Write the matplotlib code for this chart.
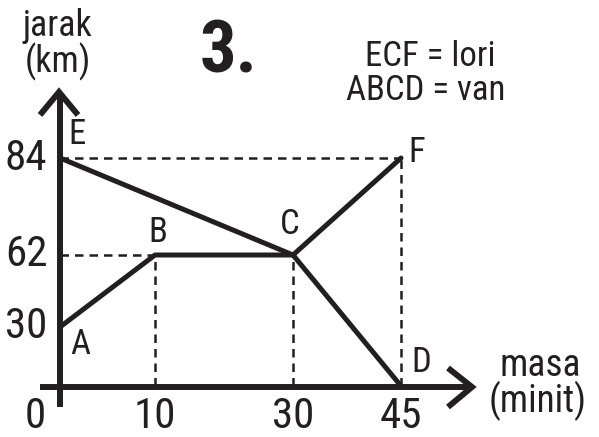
import numpy as np
import matplotlib
matplotlib.use("Agg")
import matplotlib.pyplot as plt
from matplotlib import transforms, font_manager

# ---------------- data ----------------
masa_van = [0, 10, 30, 45]
jarak_van = [30, 62, 62, 0]
label_van = ["A", "B", "C", "D"]

masa_lori = [0, 30, 45]
jarak_lori = [84, 62, 84]
label_lori = ["E", "C", "F"]

x_ticks = [10, 30, 45]
y_ticks = [30, 62, 84]

# ---------------- style ----------------
INK = "#231f20"
W, H = 599, 437
names = {f.name for f in font_manager.fontManager.ttflist}
FONT = ["Roboto Condensed", "DejaVu Sans Condensed", "Roboto", "DejaVu Sans"]
FONT = [f for f in FONT if f in names]
plt.rcParams["font.family"] = FONT

fig = plt.figure(figsize=(W / 100, H / 100), dpi=100)
ax = fig.add_axes([0, 0, 1, 1])
ax.set_axis_off()

# the sketch is not drawn to scale: piecewise-linear scales
def piecewise(xp, fp):
    xp = np.asarray(xp, float); fp = np.asarray(fp, float)
    def f(v):
        v = np.asarray(v, float)
        out = np.interp(v, xp, fp)
        lo_s = (fp[1] - fp[0]) / (xp[1] - xp[0])
        hi_s = (fp[-1] - fp[-2]) / (xp[-1] - xp[-2])
        out = np.where(v < xp[0], fp[0] + (v - xp[0]) * lo_s, out)
        out = np.where(v > xp[-1], fp[-1] + (v - xp[-1]) * hi_s, out)
        return out
    return f

xs_data, xs_pix = [0, 10, 30, 45], [60, 155, 293, 401]
ys_data, ys_pix = [0, 30, 62, 84], [H - 386, H - 327, H - 255, H - 158]
fx, fxi = piecewise(xs_data, xs_pix), piecewise(xs_pix, xs_data)
fy, fyi = piecewise(ys_data, ys_pix), piecewise(ys_pix, ys_data)
ax.set_xscale("function", functions=(fx, fxi))
ax.set_yscale("function", functions=(fy, fyi))
ax.set_xlim(float(fxi(0)), float(fxi(W)))
ax.set_ylim(float(fyi(0)), float(fyi(H)))

# pixel transform (origin top-left) for decorations
P = transforms.Affine2D().scale(1 / W, -1 / H).translate(0, 1) + fig.transFigure

# axes with open arrow heads
axis_kw = dict(color=INK, lw=4.3, solid_capstyle="butt", solid_joinstyle="miter",
               transform=P, clip_on=False)
ax.plot([40, 470], [387, 387], **axis_kw)
ax.plot([60, 60], [407, 94], **axis_kw)
ax.plot([448, 472, 448], [368, 387, 407], **axis_kw)
ax.plot([40, 59, 78], [115, 92, 115], **axis_kw)

# dashed guide lines
dash_kw = dict(color=INK, lw=1.8, linestyle=(0, (3.4, 2.4)), zorder=1)
guides_x = [masa_van[1], masa_van[2], masa_lori[2]]
guides_y = [jarak_van[1], jarak_van[2], jarak_lori[2]]
for gx, gy in zip(guides_x, guides_y):
    ax.plot([gx, gx], [0, gy], **dash_kw)
ax.plot([0, masa_van[1]], [jarak_van[1], jarak_van[1]], **dash_kw)
ax.plot([0, masa_lori[2]], [jarak_lori[0], jarak_lori[2]], **dash_kw)

# the two journeys
line_kw = dict(color=INK, lw=3.6, solid_capstyle="round", solid_joinstyle="round", zorder=3)
ax.plot(masa_van, jarak_van, **line_kw)
ax.plot(masa_lori, jarak_lori, **line_kw)

# point letters
lbl_kw = dict(textcoords="offset pixels", ha="center", va="center",
              fontsize=25, color=INK)
van_off = [(20, -17), (3, 23), (-3, 31), (20, 23)]
for x, y, s, o in zip(masa_van, jarak_van, label_van, van_off):
    if s == "C":
        continue
    ax.annotate(s, (x, y), xytext=o, **lbl_kw)
lori_off = [(17, 23), (-3, 31), (16, 6)]
for x, y, s, o in zip(masa_lori, jarak_lori, label_lori, lori_off):
    ax.annotate(s, (x, y), xytext=o, **lbl_kw)

# tick labels
tick_kw = dict(fontsize=31, color=INK, ha="center", va="center")
for t in x_ticks:
    ax.annotate(str(t), (t, 0), xytext=(0, -31), textcoords="offset pixels", **tick_kw)
for t in y_ticks:
    ax.annotate(str(t), (0, t), xytext=(-34, 0), textcoords="offset pixels", **tick_kw)
ax.annotate("0", (0, 0), xytext=(-25, -31), textcoords="offset pixels", **tick_kw)

# titles and captions
txt_kw = dict(transform=P, ha="center", va="center", color=INK)
ax.text(57, 26, "jarak", fontsize=26, **txt_kw)
ax.text(58, 62, "(km)", fontsize=26, **txt_kw)
ax.text(540, 366, "masa", fontsize=27, **txt_kw)
ax.text(538, 401, "(minit)", fontsize=27, **txt_kw)
ax.text(229, 53, "3.", transform=P, fontsize=52, fontweight="bold",
        ha="center", va="center", color=INK)
ax.text(430, 56, "ECF = lori", fontsize=25, **txt_kw)
ax.text(426, 90, "ABCD = van", fontsize=25, **txt_kw)

fig.savefig("out.png", dpi=100)
